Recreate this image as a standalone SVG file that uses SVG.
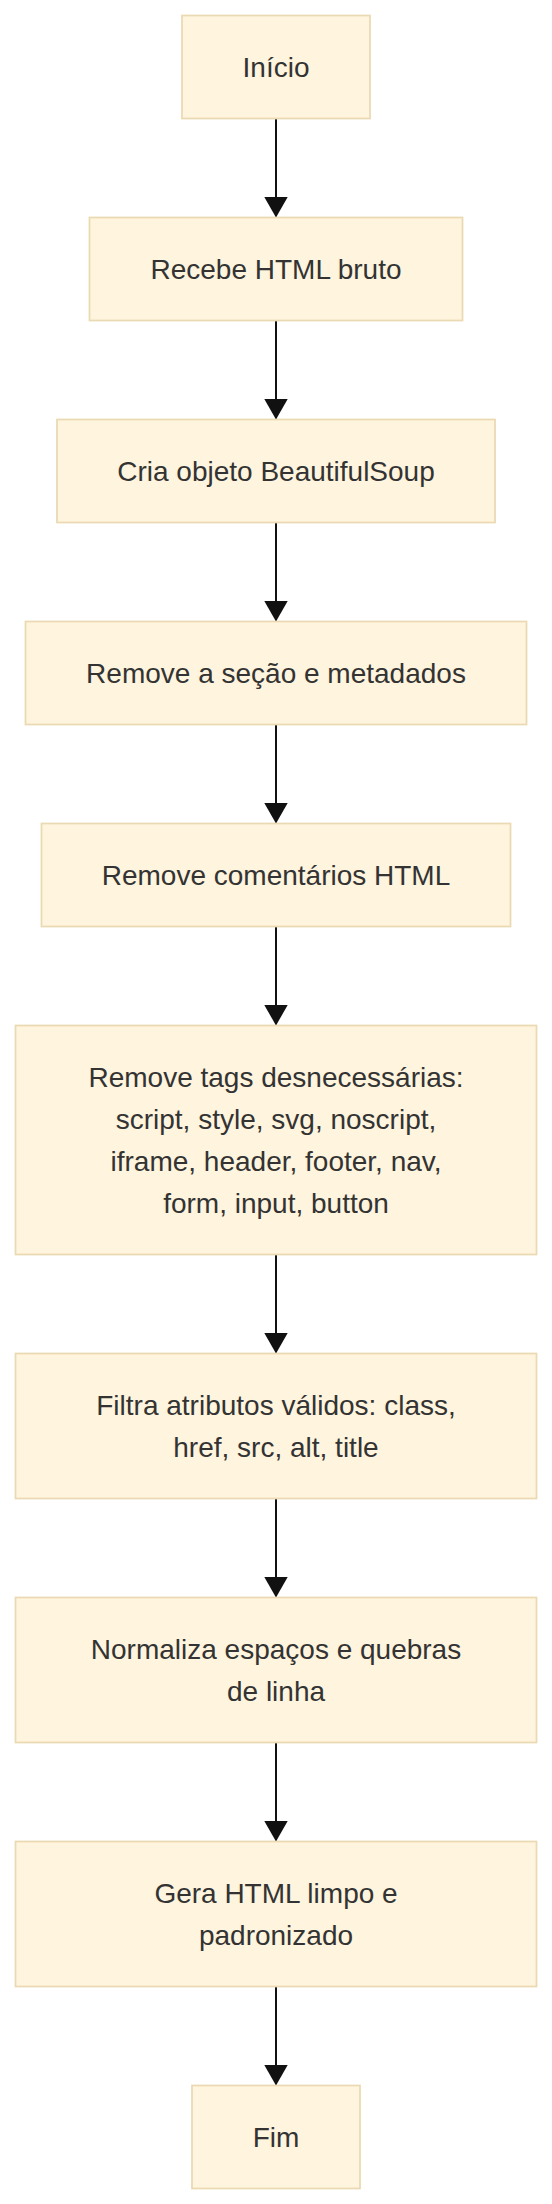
<svg xmlns="http://www.w3.org/2000/svg" width="552" height="2204" viewBox="0 0 552 2204">
<style>
.node rect{fill:#fff4dd;stroke:#ead9b3;stroke-width:1.75}
.node text{font-family:"Liberation Sans",Arial,sans-serif;font-size:28px;fill:#333333;text-anchor:middle}
.edge{stroke:#111111;stroke-width:2;fill:none;marker-end:url(#arrow)}
</style>
<defs>
<marker id="arrow" markerUnits="userSpaceOnUse" markerWidth="21" markerHeight="24" viewBox="0 0 21 24" refX="20" refY="12" orient="auto">
<path d="M0,0 L21,12 L0,24 z" fill="#111111"/>
</marker>
</defs>
<rect width="552" height="2204" fill="#ffffff"/>
<g id="connectors">
<line class="edge" x1="276" y1="118.5" x2="276" y2="216.5"/>
<line class="edge" x1="276" y1="320.5" x2="276" y2="418.5"/>
<line class="edge" x1="276" y1="522.5" x2="276" y2="620.5"/>
<line class="edge" x1="276" y1="724.5" x2="276" y2="822.5"/>
<line class="edge" x1="276" y1="926.5" x2="276" y2="1024.5"/>
<line class="edge" x1="276" y1="1254.5" x2="276" y2="1352.5"/>
<line class="edge" x1="276" y1="1498.5" x2="276" y2="1596.5"/>
<line class="edge" x1="276" y1="1742.5" x2="276" y2="1840.5"/>
<line class="edge" x1="276" y1="1986.5" x2="276" y2="2084.5"/>
</g>
<g id="n1" class="node"><rect x="182" y="15.5" width="188" height="103"/><text x="276" y="76.7">Início</text></g>
<g id="n2" class="node"><rect x="89.5" y="217.5" width="373" height="103"/><text x="276" y="278.7">Recebe HTML bruto</text></g>
<g id="n3" class="node"><rect x="57" y="419.5" width="438" height="103"/><text x="276" y="480.7">Cria objeto BeautifulSoup</text></g>
<g id="n4" class="node"><rect x="25.5" y="621.5" width="501" height="103"/><text x="276" y="682.7">Remove a seção e metadados</text></g>
<g id="n5" class="node"><rect x="41.5" y="823.5" width="469" height="103"/><text x="276" y="884.7">Remove comentários HTML</text></g>
<g id="n6" class="node"><rect x="15.5" y="1025.5" width="521" height="229"/>
<text x="276" y="1086.7">Remove tags desnecessárias:</text>
<text x="276" y="1128.7">script, style, svg, noscript,</text>
<text x="276" y="1170.7">iframe, header, footer, nav,</text>
<text x="276" y="1212.7">form, input, button</text></g>
<g id="n7" class="node"><rect x="15.5" y="1353.5" width="521" height="145"/>
<text x="276" y="1414.7">Filtra atributos válidos: class,</text>
<text x="276" y="1456.7">href, src, alt, title</text></g>
<g id="n8" class="node"><rect x="15.5" y="1597.5" width="521" height="145"/>
<text x="276" y="1658.7">Normaliza espaços e quebras</text>
<text x="276" y="1700.7">de linha</text></g>
<g id="n9" class="node"><rect x="15.5" y="1841.5" width="521" height="145"/>
<text x="276" y="1902.7">Gera HTML limpo e</text>
<text x="276" y="1944.7">padronizado</text></g>
<g id="n10" class="node"><rect x="192" y="2085.5" width="168" height="103"/><text x="276" y="2146.7">Fim</text></g>
</svg>
